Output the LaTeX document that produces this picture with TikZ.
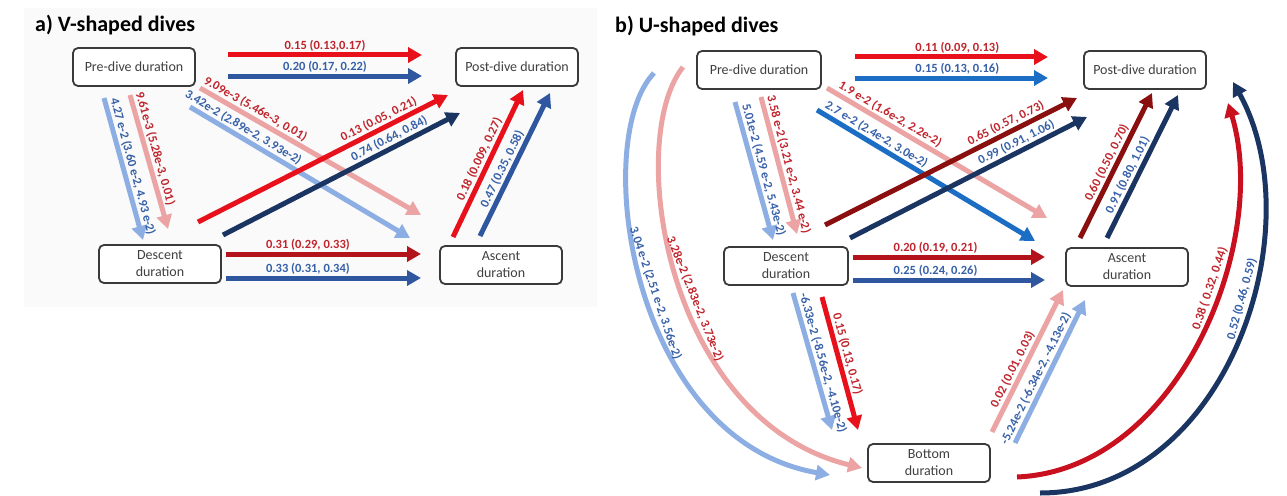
\documentclass[tikz,border=0pt]{standalone}
\usepackage{fontspec}
\setmainfont{Carlito}
\usetikzlibrary{arrows.meta, calc}
\definecolor{vred}{HTML}{E8101A}
\definecolor{dred}{HTML}{B3141C}
\definecolor{mred}{HTML}{8A1010}
\definecolor{arcred}{HTML}{C8101E}
\definecolor{pinkred}{HTML}{EBA3A3}
\definecolor{lightblu}{HTML}{8DAEE3}
\definecolor{midblue}{HTML}{2E57A0}
\definecolor{brightblue}{HTML}{1C6EC4}
\definecolor{navy}{HTML}{1B3563}
\definecolor{txtred}{HTML}{C0242C}
\definecolor{txtblue}{HTML}{3660A8}
\definecolor{boxframe}{HTML}{3A3A3A}
\definecolor{boxtext}{HTML}{404040}
\definecolor{panelbg}{HTML}{FAFAFA}
\tikzset{
  durbox/.style={
    draw=boxframe,
    line width=1.8pt,
    rounded corners=5pt,
    fill=white,
    align=center,
    inner sep=2pt,
    minimum width=122pt,
    minimum height=38pt,
    text=boxtext,
    font=\fontsize{14}{17}\selectfont
  },
  arr/.style={-{Triangle[length=14pt, width=15pt]}, line width=5pt},
  lbl/.style={font=\bfseries\fontsize{12.5}{14}\selectfont, inner sep=1.5pt, sloped, above},
  lblr/.style={lbl, text=txtred},
  lblb/.style={lbl, text=txtblue},
  paneltitle/.style={font=\bfseries\fontsize{22}{26}\selectfont, anchor=base west, inner sep=0pt}
}

\begin{document}
\begin{tikzpicture}[x=1pt, y=-1pt]

  \useasboundingbox (0,0) rectangle (1287,495);
  \fill[panelbg] (24,8) rectangle (597,307);

  % a) V-shaped dives
  \node[paneltitle] (titleA) at (35,32) {a) V-shaped dives};

  \node[durbox] (preA) at (134,67) {Pre-dive duration};
  \node[durbox] (postA) at (517,67) {Post-dive duration};
  \node[durbox] (descA) at (160,264) {Descent\\duration};
  \node[durbox] (ascA) at (501,265) {Ascent\\duration};

  \draw[arr, vred] ($(preA)+(94,-12)$) -- node[lblr] (tA1) {0.15 (0.13,0.17)} ($(postA)+(-95,-12)$);
  \draw[arr, midblue] ($(preA)+(94,9)$) -- node[lblb] (tA2) {0.20 (0.17, 0.22)} ($(postA)+(-95,9)$);

  \draw[arr, lightblu] ($(preA)+(-30,31)$) -- node[lblb, pos=0.5] (tA3) {4.27 e-2 (3.60 e-2, 4.93 e-2)} ($(descA)+(-17,-24)$);
  \draw[arr, pinkred] ($(preA)+(-4,28)$) -- node[lblr, pos=0.42] (tA4) {9.61e-3 (5.28e-3, 0.01)} ($(descA)+(8,-35)$);

  \draw[arr, pinkred] ($(preA)+(66,21)$) -- node[lblr, pos=0.23] (tA5) {9.09e-3 (5.46e-3, 0.01)} ($(ascA)+(-80,-50)$);
  \draw[arr, lightblu] ($(preA)+(56,40)$) -- node[lblb, pos=0.22] (tA6) {3.42e-2 (2.89e-2, 3.93e-2)} ($(ascA)+(-91,-27)$);

  \draw[arr, vred] ($(descA)+(38,-42)$) -- node[lblr, pos=0.74] (tA7) {0.13 (0.05, 0.21)} ($(postA)+(-69,28)$);
  \draw[arr, navy] ($(descA)+(63,-29)$) -- node[lblb, pos=0.72] (tA8) {0.74 (0.64, 0.84)} ($(postA)+(-57,46)$);

  \draw[arr, dred] ($(descA)+(66,-10)$) -- node[lblr, pos=0.42] (tA9) {0.31 (0.29, 0.33)} ($(ascA)+(-80,-11)$);
  \draw[arr, midblue] ($(descA)+(66,14)$) -- node[lblb, pos=0.42] (tA10) {0.33 (0.31, 0.34)} ($(ascA)+(-80,13)$);

  \draw[arr, vred] ($(ascA)+(-48,-28)$) -- node[lblr, pos=0.5] (tA11) {0.18 (0.009, 0.27)} ($(postA)+(6,23)$);
  \draw[arr, midblue] ($(ascA)+(-21,-29)$) -- node[lblb, pos=0.44] (tA12) {0.47 (0.35, 0.58)} ($(postA)+(33,26)$);

  % b) U-shaped dives
  \node[paneltitle] (titleB) at (615,33) {b) U-shaped dives};

  \node[durbox, minimum width=124pt] (preB) at (759,70) {Pre-dive duration};
  \node[durbox] (postB) at (1145,70) {Post-dive duration};
  \node[durbox, minimum width=124pt] (descB) at (786,266) {Descent\\duration};
  \node[durbox] (ascB) at (1127,267) {Ascent\\duration};
  \node[durbox] (botB) at (929,463) {Bottom\\duration};

  \draw[arr, vred] ($(preB)+(96,-13)$) -- node[lblr, pos=0.53] (tB1) {0.11 (0.09, 0.13)} ($(postB)+(-97,-13)$);
  \draw[arr, brightblue] ($(preB)+(96,8)$) -- node[lblb, pos=0.53] (tB2) {0.15 (0.13, 0.16)} ($(postB)+(-97,8)$);

  \draw[arr, lightblu] ($(preB)+(-24,32)$) -- node[lblb, pos=0.51] (tB3) {5.01e-2 (4.59 e-2, 5.43e-2)} ($(descB)+(-13,-26)$);
  \draw[arr, pinkred] ($(preB)+(2,27)$) -- node[lblr, pos=0.51] (tB4) {3.58 e-2 (3.21 e-2, 3.44 e-2)} ($(descB)+(11,-32)$);

  \draw[arr, pinkred] ($(preB)+(68,18)$) -- node[lblr, pos=0.265] (tB5) {1.9 e-2 (1.6e-2, 2.2e-2)} ($(ascB)+(-80,-49)$);
  \draw[arr, brightblue] ($(preB)+(58,40)$) -- node[lblb, pos=0.25] (tB6) {2.7 e-2 (2.4e-2, 3.0e-2)} ($(ascB)+(-92,-26)$);

  \draw[arr, mred] ($(descB)+(39,-41)$) -- node[lblr, pos=0.735] (tB7) {0.65 (0.57, 0.73)} ($(postB)+(-68,28)$);
  \draw[arr, navy] ($(descB)+(64,-28)$) -- node[lblb, pos=0.72] (tB8) {0.99 (0.91, 1.06)} ($(postB)+(-58,47)$);

  \draw[arr, dred] ($(descB)+(67,-9)$) -- node[lblr, pos=0.43] (tB9) {0.20 (0.19, 0.21)} ($(ascB)+(-82,-10)$);
  \draw[arr, midblue] ($(descB)+(67,14)$) -- node[lblb, pos=0.43] (tB10) {0.25 (0.24, 0.26)} ($(ascB)+(-82,13)$);

  \draw[arr, lightblu] ($(descB)+(7,27)$) -- node[lblb, pos=0.53] (tB11) {-6.33e-2 (-8.56e-2, -4.10e-2)} ($(botB)+(-97,-33)$);
  \draw[arr, vred] ($(descB)+(36,31)$) -- node[lblr, pos=0.45] (tB12) {0.15 (0.13, 0.17)} ($(botB)+(-71,-33)$);

  \draw[arr, pinkred] ($(botB)+(63,-31)$) -- node[lblr, pos=0.41] (tB13) {0.02 (0.01, 0.03)} ($(ascB)+(-64,23)$);
  \draw[arr, lightblu] ($(botB)+(86,-20)$) -- node[lblb, pos=0.42] (tB14) {-5.24e-2 (-6.34e-2, -4.13e-2)} ($(ascB)+(-42,33)$);

  \draw[arr, mred] ($(ascB)+(-47,-29)$) -- node[lblr, pos=0.49] (tB15) {0.60 (0.50, 0.70)} ($(postB)+(7,23)$);
  \draw[arr, navy] ($(ascB)+(-20,-29)$) -- node[lblb, pos=0.41] (tB16) {0.91 (0.80, 1.01)} ($(postB)+(33,25)$);

  \draw[arr, lightblu] ($(preB)+(-105,3)$) .. controls +(-64,67) and +(-200,-35) .. ($(botB)+(-99,12)$)
    node[lblb, pos=0.52] (tB17) {3.04 e-2 (2.51 e-2, 3.56e-2)};
  \draw[arr, pinkred] ($(preB)+(-76,-3)$) .. controls +(-58,73) and +(-197,-48) .. ($(botB)+(-67,5)$)
    node[lblr, pos=0.55] (tB18) {3.28e-2 (2.83e-2, 3.73e-2)};

  \draw[arr, arcred] ($(botB)+(88,14)$) .. controls +(163,-7) and +(42,137) .. ($(postB)+(83,33)$)
    node[lblr, pos=0.6] (tB19) {0.38 ( 0.32, 0.44)};
  \draw[arr, navy] ($(botB)+(111,30)$) .. controls +(185,0) and +(82,148) .. ($(postB)+(88,12)$)
    node[lblb, pos=0.58] (tB20) {0.52 (0.46, 0.59)};

\end{tikzpicture}
\end{document}
